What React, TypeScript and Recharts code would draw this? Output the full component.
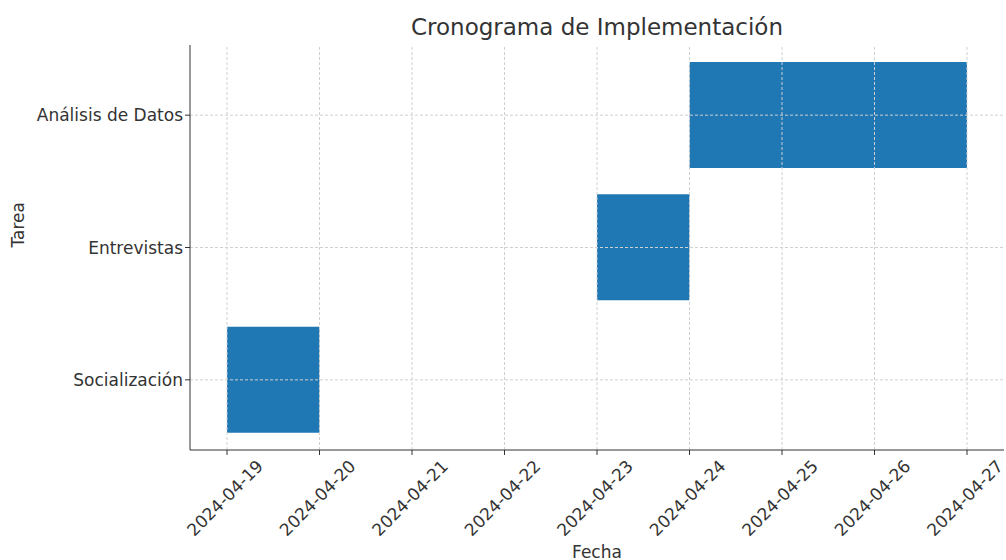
import React from 'react';
import { BarChart, Bar, XAxis, YAxis, ReferenceLine } from 'recharts';

const tasks = ['Socialización', 'Entrevistas', 'Análisis de Datos'];
const startDates = ['2024-04-19', '2024-04-23', '2024-04-24'];
const endDates = ['2024-04-20', '2024-04-24', '2024-04-27'];
const tickDates = [
  '2024-04-19', '2024-04-20', '2024-04-21', '2024-04-22', '2024-04-23',
  '2024-04-24', '2024-04-25', '2024-04-26', '2024-04-27',
];

const DAY = 86400000;
const base = Date.parse(tickDates[0]);
const toDay = (d: string) => (Date.parse(d) - base) / DAY;

const data = tasks.map((task, i) => ({
  task,
  range: [toDay(startDates[i]), toDay(endDates[i])],
}));

const ticks = tickDates.map(toDay);
const FONT = '"DejaVu Sans", sans-serif';
const GRID = '#d0d0d0';

function DateTick(props: any) {
  const { x, y, payload } = props;
  const label = tickDates[Math.round(payload.value)] ?? '';
  return (
    <g transform={`translate(${x - 2},${y + 41})`}>
      <text
        transform="rotate(-45)"
        textAnchor="middle"
        dominantBaseline="central"
        fontSize={17}
        fontFamily={FONT}
        fill="#333"
      >
        {label}
      </text>
    </g>
  );
}

export default function App() {
  return (
    <div
      style={{
        position: 'absolute',
        left: 0,
        top: 0,
        width: 1006,
        height: 560,
        overflow: 'hidden',
        background: '#fff',
      }}
    >
      <div
        style={{
          position: 'absolute',
          left: 197,
          width: 800,
          top: 13,
          textAlign: 'center',
          fontFamily: FONT,
          fontSize: 23,
          color: '#333',
          lineHeight: '28px',
        }}
      >
        Cronograma de Implementación
      </div>
      <BarChart
        width={1006}
        height={560}
        data={data}
        layout="vertical"
        margin={{ top: 45, right: 2, left: 0, bottom: 0 }}
      >
        <XAxis
          type="number"
          domain={[-0.4, 8.4]}
          ticks={ticks}
          interval={0}
          height={110}
          tick={<DateTick />}
          tickSize={5}
          stroke="#333"
          label={{ value: 'Fecha', position: 'insideBottom', offset: 2, fontSize: 17, fontFamily: FONT, fill: '#333' }}
        />
        <YAxis
          type="category"
          dataKey="task"
          reversed
          width={190}
          padding={{ top: 4, bottom: 4 }}
          tickSize={5}
          stroke="#333"
          tick={{ fontSize: 17, fontFamily: FONT, fill: '#333' }}
          label={{ value: 'Tarea', angle: -90, position: 'insideLeft', offset: 0, dx: 18, fontSize: 17, fontFamily: FONT, fill: '#333' }}
        />
        <Bar dataKey="range" fill="#1f77b4" barSize={106} isAnimationActive={false} />
        {ticks.map((t) => (
          <ReferenceLine key={`x${t}`} x={t} stroke={GRID} strokeDasharray="3 2" />
        ))}
        {tasks.map((t) => (
          <ReferenceLine key={`y${t}`} y={t} stroke={GRID} strokeDasharray="3 2" />
        ))}
      </BarChart>
    </div>
  );
}
